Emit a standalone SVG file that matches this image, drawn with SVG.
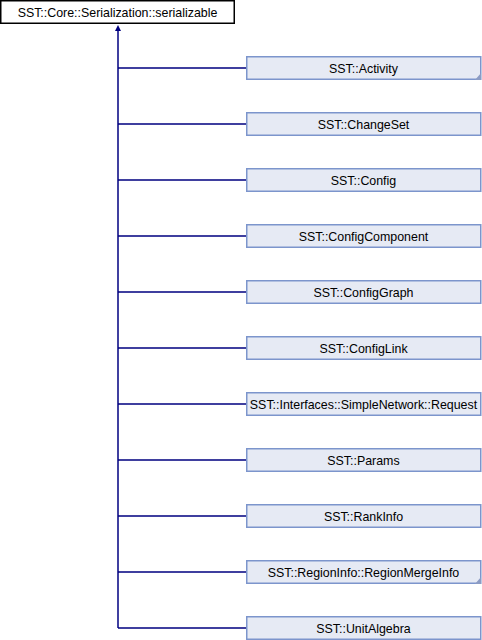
<svg xmlns="http://www.w3.org/2000/svg" width="482" height="640" viewBox="0 0 482 640">
<style>
.t{font-family:"Liberation Sans",Arial,sans-serif;font-size:12.4px;fill:#000;text-anchor:middle}
.c{fill:#E6EAF4;stroke:#7C95CC;stroke-width:1.5}
.b{fill:#fff;stroke:#000;stroke-width:1.5}
.e{fill:none;stroke:#000080;stroke-width:1.5}
.k{fill:#8C9CC4}
</style>
<rect width="482" height="640" fill="#fff"/>
<g id="connectors">
<path class="e" d="M118,29 V628"/>
<path class="e" d="M118,68 H246 M118,124 H246 M118,180 H246 M118,236 H246 M118,292 H246 M118,348 H246 M118,404 H246 M118,460 H246 M118,516 H246 M118,572 H246 M118,628 H246"/>
<polygon points="118,25 121,31 115,31" fill="#000080"/>
</g>
<g id="serializable"><rect class="b" x="0.75" y="0.75" width="233.5" height="22.5"/><text class="t" x="117.5" y="16.5">SST::Core::Serialization::serializable</text></g>
<g id="Activity"><rect class="c" x="246.75" y="56.75" width="234" height="22.5"/><polygon class="k" points="481,73 481,80 475,80"/><text class="t" x="363.5" y="72.5">SST::Activity</text></g>
<g id="ChangeSet"><rect class="c" x="246.75" y="112.75" width="234" height="22.5"/><text class="t" x="363.5" y="128.5">SST::ChangeSet</text></g>
<g id="Config"><rect class="c" x="246.75" y="168.75" width="234" height="22.5"/><text class="t" x="363.5" y="184.5">SST::Config</text></g>
<g id="ConfigComponent"><rect class="c" x="246.75" y="224.75" width="234" height="22.5"/><text class="t" x="363.5" y="240.5">SST::ConfigComponent</text></g>
<g id="ConfigGraph"><rect class="c" x="246.75" y="280.75" width="234" height="22.5"/><text class="t" x="363.5" y="296.5">SST::ConfigGraph</text></g>
<g id="ConfigLink"><rect class="c" x="246.75" y="336.75" width="234" height="22.5"/><text class="t" x="363.5" y="352.5">SST::ConfigLink</text></g>
<g id="Request"><rect class="c" x="246.75" y="392.75" width="234" height="22.5"/><text class="t" x="363.5" y="408.5">SST::Interfaces::SimpleNetwork::Request</text></g>
<g id="Params"><rect class="c" x="246.75" y="448.75" width="234" height="22.5"/><text class="t" x="363.5" y="464.5">SST::Params</text></g>
<g id="RankInfo"><rect class="c" x="246.75" y="504.75" width="234" height="22.5"/><text class="t" x="363.5" y="520.5">SST::RankInfo</text></g>
<g id="RegionMergeInfo"><rect class="c" x="246.75" y="560.75" width="234" height="22.5"/><polygon class="k" points="481,577 481,584 475,584"/><text class="t" x="363.5" y="576.5">SST::RegionInfo::RegionMergeInfo</text></g>
<g id="UnitAlgebra"><rect class="c" x="246.75" y="616.75" width="234" height="22.5"/><text class="t" x="363.5" y="632.5">SST::UnitAlgebra</text></g>
</svg>
